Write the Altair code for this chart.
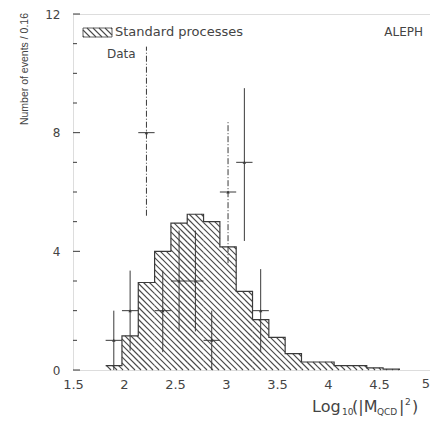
import altair as alt
import pandas as pd

# ---------------- data ----------------
bin_lo = [1.82, 1.98, 2.14, 2.30, 2.46, 2.62, 2.78, 2.94, 3.10, 3.26,
          3.42, 3.58, 3.74, 3.90, 4.06, 4.22, 4.38, 4.54, 4.70]
mc_counts = [0.15, 1.15, 2.95, 4.0, 4.95, 5.25, 5.0, 4.15, 2.65, 1.7,
             1.1, 0.55, 0.27, 0.27, 0.15, 0.15, 0.07, 0.03, 0.0]

data_x = [1.90, 2.06, 2.22, 2.38, 2.54, 2.70, 2.86, 3.02, 3.18, 3.34]
data_y = [1, 2, 8, 2, 3, 3, 1, 6, 7, 2]
data_lo = [0.0, 0.65, 5.2, 0.6, 1.3, 1.3, 0.0, 3.6, 4.35, 0.6]
data_hi = [2.0, 3.35, 10.9, 3.35, 4.7, 4.7, 2.0, 8.4, 9.5, 3.4]
data_broken = [0, 0, 1, 0, 0, 0, 0, 1, 0, 0]   # error bars that look dash-dotted
half_bin = 0.08

x_labels = [1.5, 2, 2.5, 3, 3.5, 4, 4.5]
x_last_label = 5
y_labels = [0, 4, 8, 12]
y_minor = [1, 2, 3, 5, 6, 7, 9, 10, 11]

# ---------------- layout / style ----------------
W_PLOT, H_PLOT = 357, 356
X0, X1 = 1.5, 5.0
Y0, Y1 = 0, 12
INK = "#3a3a3a"
HATCH = "#4a4a4a"
TXT = "#444444"
SPACING = 6.0  # horizontal distance between hatch lines, px

xs = alt.Scale(domain=[X0, X1], nice=False, zero=False)
ys = alt.Scale(domain=[Y0, Y1], nice=False)
sx = W_PLOT / (X1 - X0)
sy = H_PLOT / (Y1 - Y0)

# ---- hatch segments ("\" lines) clipped to each histogram bin ----
seg = []
edges = bin_lo + [bin_lo[-1] + 0.16]
k = int(-W_PLOT / SPACING) - 1
while k * SPACING <= H_PLOT:
    c = k * SPACING  # line: py - px = c (pixel space)
    for i, h in enumerate(mc_counts):
        if h <= 0:
            continue
        xa, xb = edges[i], edges[i + 1]
        xh = X0 + (H_PLOT - c - h * sy) / sx
        xz = X0 + (H_PLOT - c) / sx
        s, e = max(xa, xh), min(xb, xz)
        if e > s:
            y_s = (H_PLOT - c - (s - X0) * sx) / sy
            y_e = (H_PLOT - c - (e - X0) * sx) / sy
            seg.append({"x": s, "x2": e, "y": y_s, "y2": y_e})
    k += 1
hatch_df = pd.DataFrame(seg)

# legend box hatching (pixel space)
LX0, LX1, LY0, LY1 = 10, 39, 14, 23
lseg = []
k = int((LY0 - LX1) / SPACING) - 1
while k * SPACING <= LY1 - LX0:
    c = k * SPACING  # py = px + c
    s, e = max(LX0, LY0 - c), min(LX1, LY1 - c)
    if e > s:
        lseg.append({"x": s, "x2": e, "y": s + c, "y2": e + c})
    k += 1
lhatch_df = pd.DataFrame(lseg)

hist = pd.DataFrame({"x": bin_lo, "y": mc_counts})

xaxis = alt.Axis(values=x_labels, format="~g", ticks=False, domain=False,
                 grid=False, labelFontSize=13, labelColor=TXT, labelPadding=8,
                 labelFlush=False, title=None, labelFont="DejaVu Sans")
yaxis = alt.Axis(values=y_labels, ticks=False, domain=False, grid=False,
                 labelFontSize=12, labelColor=TXT, labelPadding=13,
                 title=None, labelFont="DejaVu Sans")

area = alt.Chart(hist).mark_area(
    interpolate="step-after", fill="white", strokeWidth=0
).encode(x=alt.X("x:Q", scale=xs, axis=xaxis),
         y=alt.Y("y:Q", scale=ys, axis=yaxis))

hatch = alt.Chart(hatch_df).mark_rule(color=HATCH, strokeWidth=1.15).encode(
    x=alt.X("x:Q", scale=xs), x2="x2:Q", y=alt.Y("y:Q", scale=ys), y2="y2:Q")

outline = alt.Chart(hist).mark_line(
    interpolate="step-after", color=INK, strokeWidth=1.2
).encode(x=alt.X("x:Q", scale=xs), y=alt.Y("y:Q", scale=ys))

pts = pd.DataFrame({"x": data_x, "y": data_y, "lo": data_lo, "hi": data_hi,
                    "broken": data_broken})
pts["xl"] = pts["x"] - half_bin
pts["xr"] = pts["x"] + half_bin

vbar_solid = alt.Chart(pts).transform_filter("datum.broken == 0").mark_rule(
    color=INK, strokeWidth=1).encode(
    x=alt.X("x:Q", scale=xs), y=alt.Y("lo:Q", scale=ys), y2="hi:Q")
vbar_dash = alt.Chart(pts).transform_filter("datum.broken == 1").mark_rule(
    color=INK, strokeWidth=1, strokeDash=[6, 2, 1, 2]).encode(
    x=alt.X("x:Q", scale=xs), y=alt.Y("lo:Q", scale=ys), y2="hi:Q")
hbar = alt.Chart(pts).mark_rule(color=INK, strokeWidth=1).encode(
    x=alt.X("xl:Q", scale=xs), x2="xr:Q", y=alt.Y("y:Q", scale=ys))
mark = alt.Chart(pts).mark_point(shape="triangle-up", filled=True, size=12,
                                 color=INK, opacity=1).encode(
    x=alt.X("x:Q", scale=xs), y=alt.Y("y:Q", scale=ys))

# inner ticks on the left frame
ymaj = alt.Chart(pd.DataFrame({"v": y_labels})).mark_rule(color=INK).encode(
    y=alt.Y("v:Q", scale=ys), x=alt.value(0), x2=alt.value(7))
ymin = alt.Chart(pd.DataFrame({"v": y_minor})).mark_rule(color=INK).encode(
    y=alt.Y("v:Q", scale=ys), x=alt.value(0), x2=alt.value(4))

# last x tick label, kept inside the page
last_lbl = alt.Chart(pd.DataFrame({"v": [x_last_label]})).mark_text(
    align="right", baseline="top", fontSize=13, font="DejaVu Sans", color=TXT
).encode(x=alt.X("v:Q", scale=xs), y=alt.value(H_PLOT + 8), text="v:Q")

# legend
leg_box = alt.Chart(pd.DataFrame({"k": [0]})).mark_rect(
    fill="white", stroke=INK, strokeWidth=0.8
).encode(x=alt.value(LX0), x2=alt.value(LX1), y=alt.value(LY0), y2=alt.value(LY1))
leg_hatch = alt.Chart(lhatch_df).mark_rule(color=HATCH, strokeWidth=1.1).encode(
    x=alt.X("x:Q", scale=None), x2="x2:Q", y=alt.Y("y:Q", scale=None), y2="y2:Q")


def text(t, x, y, size, align="left", font="DejaVu Sans", angle=0,
         baseline="alphabetic"):
    kw = dict(align=align, fontSize=size, font=font, color=TXT, baseline=baseline)
    if angle:
        kw["angle"] = angle
    return alt.Chart(pd.DataFrame({"t": [t]})).mark_text(**kw).encode(
        text="t:N", x=alt.value(x), y=alt.value(y))


texts = [
    text("Standard processes", 42, 22, 13),
    text("ALEPH", 350, 22, 12, align="right"),
    text("Data", 34, 44, 12),
    text("Number of events / 0.16", -48, -1, 10.5, align="right", angle=270,
         baseline="middle", font="Liberation Sans"),
    # x-axis title  Log10(|M_QCD|^2)
    text("Log", 239, 398, 16),
    text("10", 269, 401, 9),
    text("(|M", 279, 398, 16),
    text("QCD", 304, 401, 9),
    text("|", 326, 398, 16),
    text("2", 332, 391, 9),
    text(")", 339, 398, 16),
]

chart = alt.layer(area, hatch, outline, vbar_solid, vbar_dash, hbar, mark,
                  ymaj, ymin, last_lbl, leg_box, leg_hatch, *texts).properties(
    width=W_PLOT, height=H_PLOT,
    autosize=alt.AutoSizeParams(type="none"),
    padding={"left": 65, "top": 6, "right": 0, "bottom": 46},
).configure_view(stroke="#4a4a4a", strokeWidth=1.5).configure(background="white")

chart.save("out.html", embed_options={"renderer": "svg", "actions": False})
